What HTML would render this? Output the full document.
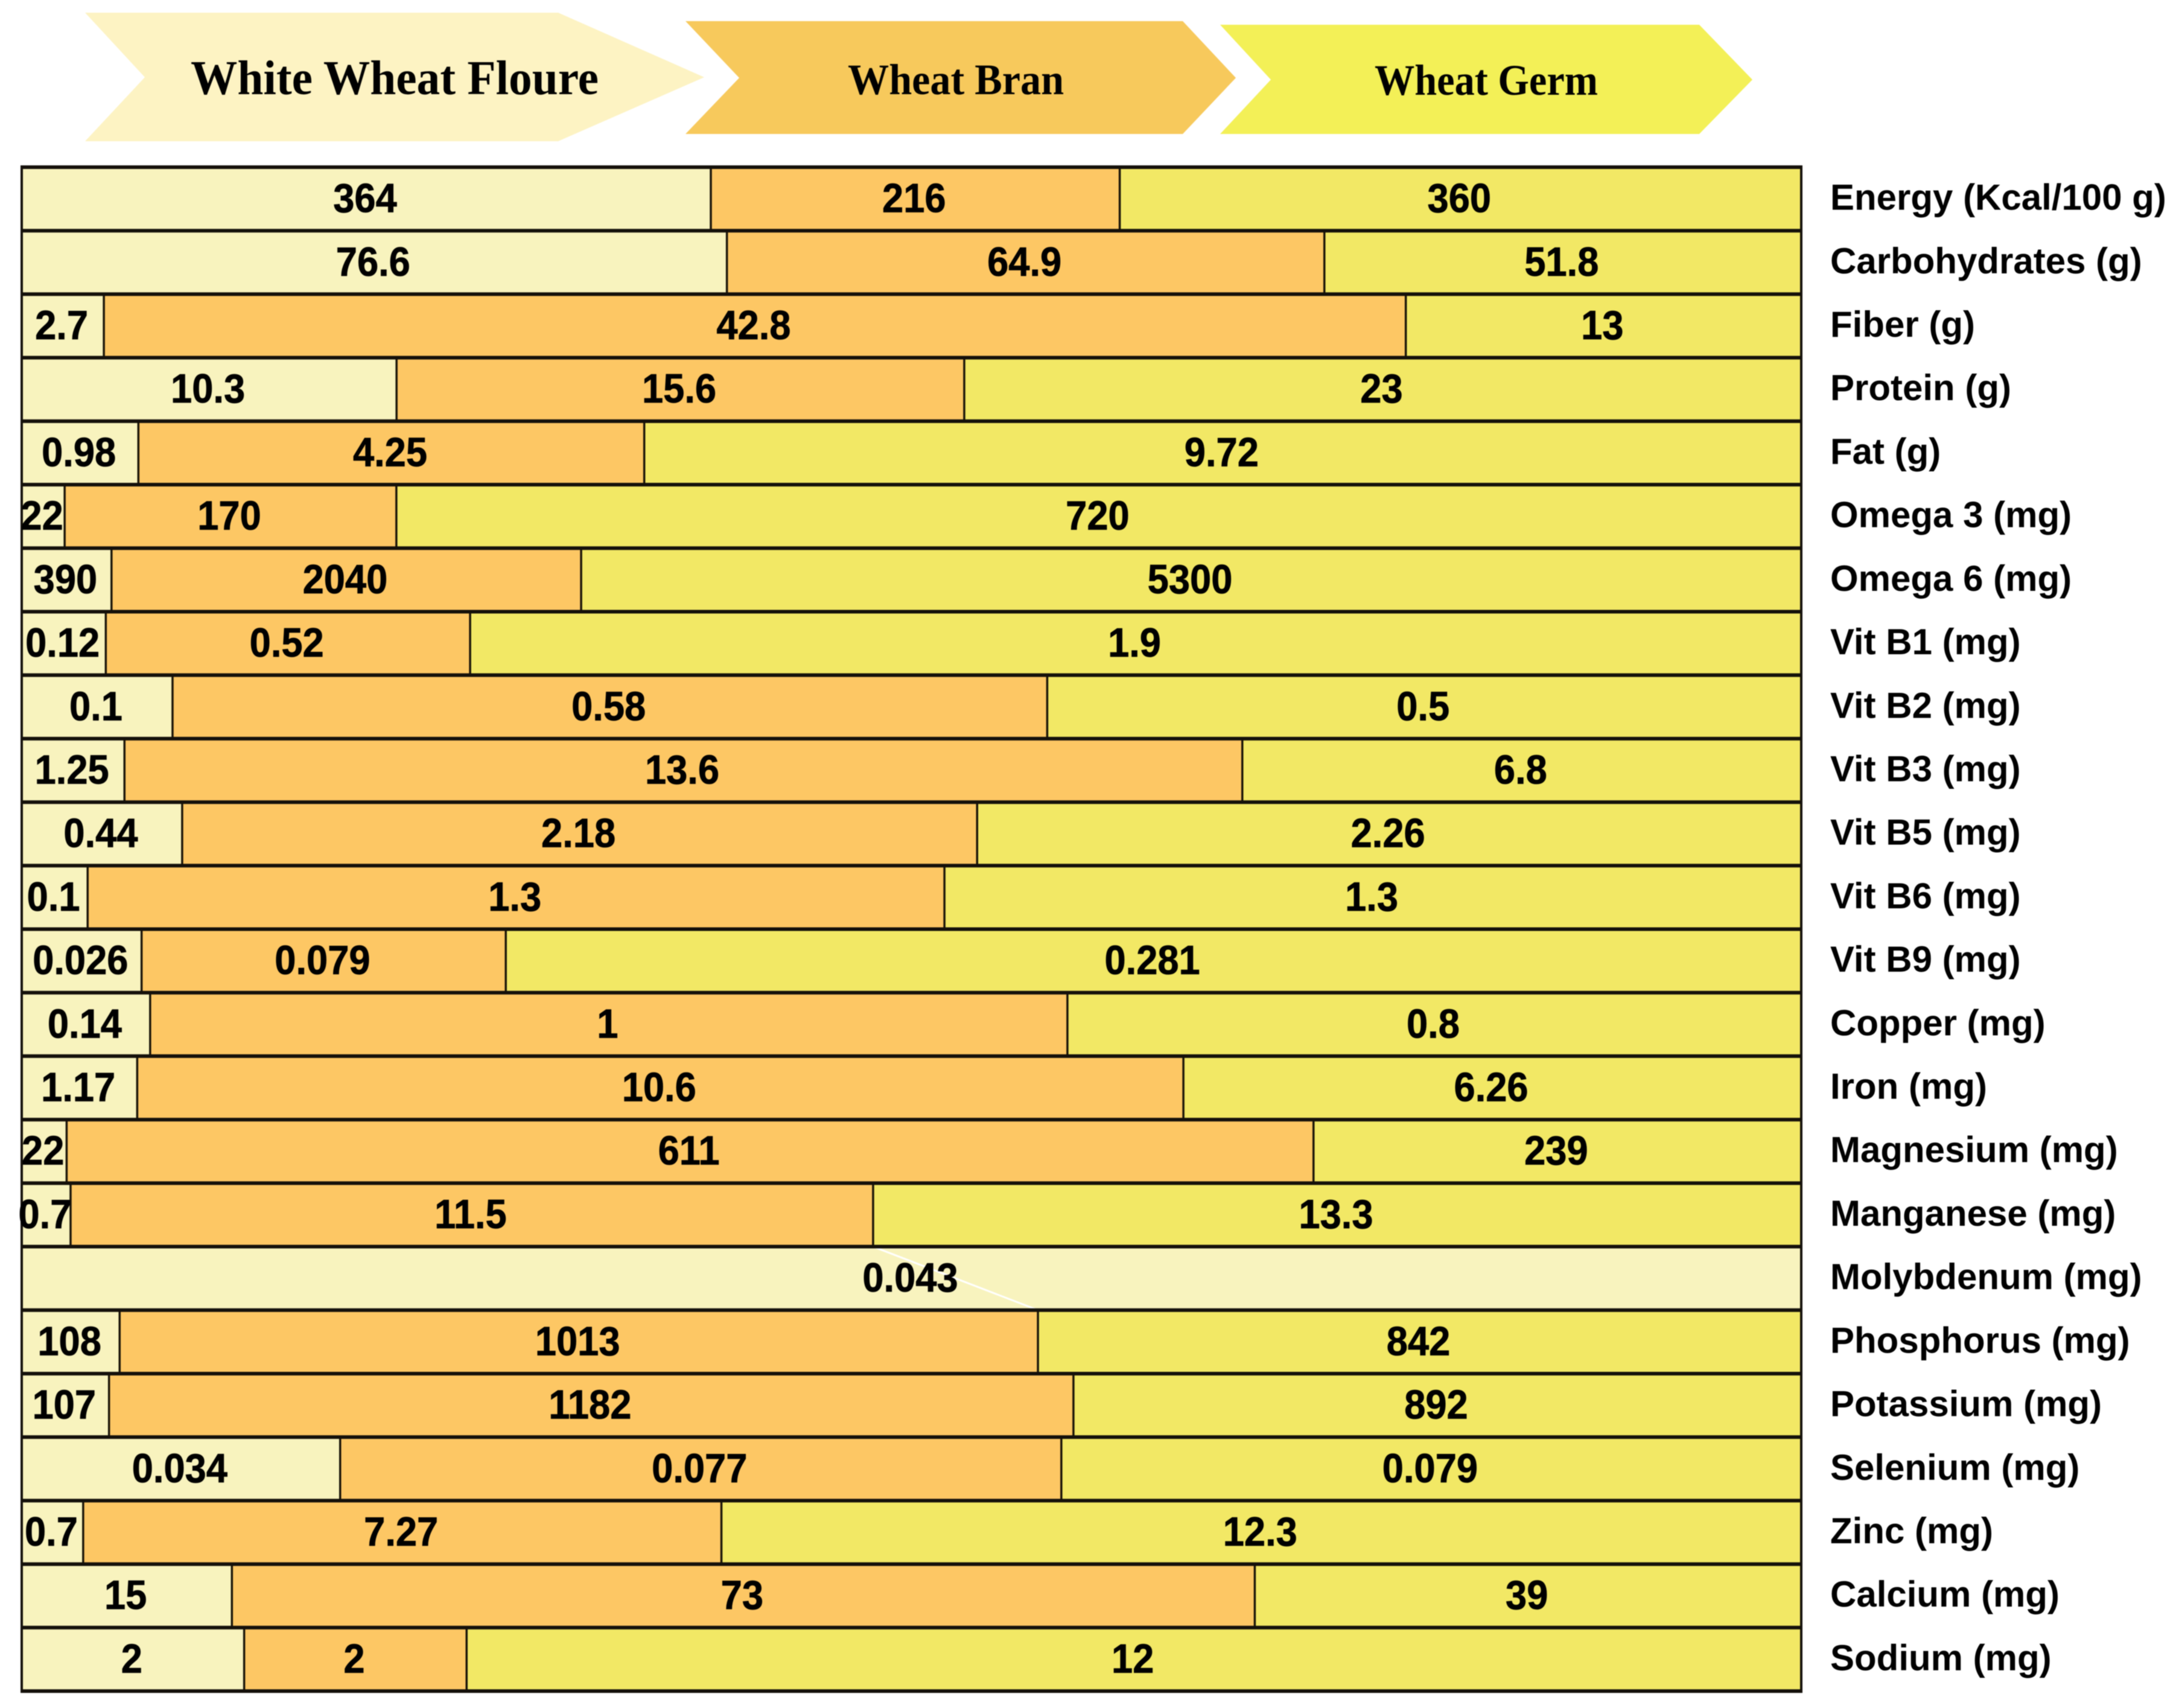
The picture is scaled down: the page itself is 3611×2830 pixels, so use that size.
<!DOCTYPE html>
<html lang="en">
<head>
<meta charset="utf-8">
<title>Wheat fraction nutrient composition</title>
<style>
html,body{margin:0;padding:0;background:#fff;}
body{width:3611px;height:2830px;overflow:hidden;}
svg{display:block;filter:blur(0.8px);}
.val{font-family:"Liberation Sans",sans-serif;font-weight:700;font-size:68px;fill:#000;stroke:#000;stroke-width:0.8px;text-anchor:middle;}
.cat{font-family:"Liberation Sans",sans-serif;font-weight:700;font-size:60px;fill:#000;}
.head{font-family:"Liberation Serif",serif;font-weight:700;fill:#000;}
</style>
</head>
<body>
<svg id="chart" xmlns="http://www.w3.org/2000/svg" width="3611" height="2830" viewBox="0 0 3611 2830">
  <g>
    <polygon points="141,21 925,21 1167,128 925,234 141,234 240,128" fill="#fdf3c3"/>
    <text class="head" x="316" y="156" font-size="80" textLength="676" lengthAdjust="spacingAndGlyphs">White Wheat Floure</text>
    <polygon points="1136,35 1960,35 2048,129 1960,222 1136,222 1225,129" fill="#f7c95c"/>
    <text class="head" x="1405" y="156" font-size="72" textLength="358" lengthAdjust="spacingAndGlyphs">Wheat Bran</text>
    <polygon points="2022,41 2816,41 2904,132 2816,222 2022,222 2106,132" fill="#f3f057"/>
    <text class="head" x="2278" y="157" font-size="72" textLength="370" lengthAdjust="spacingAndGlyphs">Wheat Germ</text>
  </g>
  <g id="bars"></g>
  <g id="grid"></g>
  <g id="labels"></g>
  <g id="cats"></g>
</svg>
<script>
const categories = ["Energy (Kcal/100 g)","Carbohydrates (g)","Fiber (g)","Protein (g)","Fat (g)","Omega 3 (mg)","Omega 6 (mg)","Vit B1 (mg)","Vit B2 (mg)","Vit B3 (mg)","Vit B5 (mg)","Vit B6 (mg)","Vit B9 (mg)","Copper (mg)","Iron (mg)","Magnesium (mg)","Manganese (mg)","Molybdenum (mg)","Phosphorus (mg)","Potassium (mg)","Selenium (mg)","Zinc (mg)","Calcium (mg)","Sodium (mg)"];
const whiteFlour = [364,76.6,2.7,10.3,0.98,22,390,0.12,0.1,1.25,0.44,0.1,0.026,0.14,1.17,22,0.7,0.043,108,107,0.034,0.7,15,2];
const wheatBran = [216,64.9,42.8,15.6,4.25,170,2040,0.52,0.58,13.6,2.18,1.3,0.079,1,10.6,611,11.5,0,1013,1182,0.077,7.27,73,2];
const wheatGerm = [360,51.8,13,23,9.72,720,5300,1.9,0.5,6.8,2.26,1.3,0.281,0.8,6.26,239,13.3,0,842,892,0.079,12.3,39,12];
const seriesNames = ["white-flour","wheat-bran","wheat-germ"];
const seriesColors = ["#f8f3be","#fdc764","#f2e865"];

const SVGNS = "http://www.w3.org/2000/svg";
const plotLeft = 36, plotRight = 2985, plotTop = 277, plotBottom = 2802;
function xScale(frac){ return plotLeft + frac * (plotRight - plotLeft); }
function yScale(i){ return plotTop + i * (plotBottom - plotTop) / categories.length; }
function make(tag, attrs){
  const e = document.createElementNS(SVGNS, tag);
  for (const k in attrs) e.setAttribute(k, attrs[k]);
  return e;
}
function boundary(i, upTo){
  const vals = [whiteFlour[i], wheatBran[i], wheatGerm[i]];
  const total = vals[0] + vals[1] + vals[2];
  let s = 0;
  for (let j = 0; j <= upTo; j++) s += vals[j];
  return s / total;
}
const bars = document.getElementById("bars");
const grid = document.getElementById("grid");
const labels = document.getElementById("labels");
const cats = document.getElementById("cats");

categories.forEach(function(cat, i){
  const vals = [whiteFlour[i], wheatBran[i], wheatGerm[i]];
  const y0 = yScale(i), y1 = yScale(i + 1), rowMid = (y0 + y1) / 2;
  let prev = 0;
  vals.forEach(function(v, s){
    if (!(v > 0)) return;
    const next = boundary(i, s);
    const x0 = xScale(prev), x1 = xScale(next);
    const r = make("rect", {x: x0, y: y0, width: x1 - x0, height: y1 - y0, fill: seriesColors[s]});
    
    
    bars.appendChild(r);
    if (next < 0.9999) {
      const d = make("line", {x1: x1, x2: x1, y1: y0, y2: y1, stroke: "#1a1408", "stroke-width": 3.5});
      
      
      grid.appendChild(d);
    }
    const t = make("text", {"class": "val", transform: "translate(" + ((x0 + x1) / 2 - 2) + "," + (rowMid + 22) + ") scale(0.93,1)"});
    t.textContent = String(v);
    
    
    labels.appendChild(t);
    prev = next;
  });
  if (vals[1] === 0 && vals[2] === 0 && i > 0 && i < categories.length - 1) {
    const lead = make("line", {x1: xScale(boundary(i - 1, 1)), y1: y0, x2: xScale(boundary(i + 1, 1)), y2: y1, stroke: "#ffffff", "stroke-width": 3});
    
    
    bars.appendChild(lead);
  }
  const c = make("text", {"class": "cat", x: 3033, y: rowMid + 18});
  c.textContent = cat;
  
  
  cats.appendChild(c);
});
for (let i = 0; i <= categories.length; i++) {
  const h = make("line", {x1: plotLeft - 2, x2: plotRight + 2, y1: yScale(i), y2: yScale(i), stroke: "#14100a", "stroke-width": 6});
  
  
  grid.appendChild(h);
}
[plotLeft, plotRight].forEach(function(x){
  const v = make("line", {x1: x, x2: x, y1: plotTop - 2, y2: plotBottom + 2, stroke: "#14100a", "stroke-width": 4});
  
  
  grid.appendChild(v);
});
</script>
</body>
</html>
